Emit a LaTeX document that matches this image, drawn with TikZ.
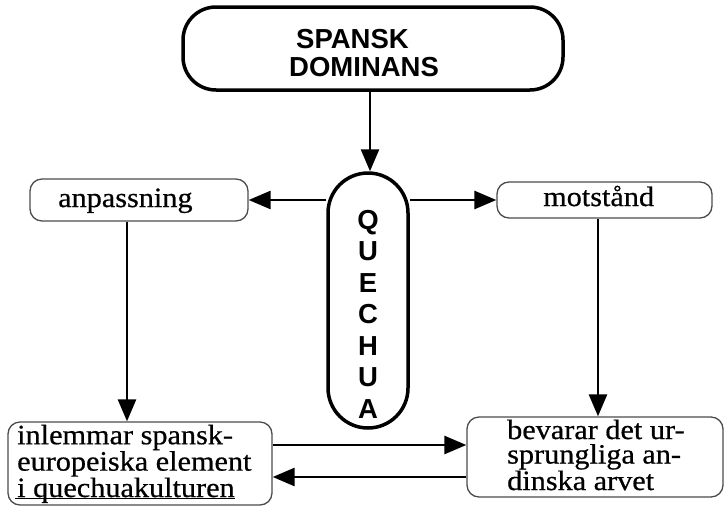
\documentclass[tikz,border=0pt]{standalone}
\usepackage{fontspec}
\usetikzlibrary{arrows.meta}
\newfontfamily\bodyface[FakeStretch=1.08,FakeBold=0.6]{Liberation Serif}
\newfontfamily\headface{Liberation Sans}
% underline drawn slightly below the baseline, crossing descenders
\newcommand\lowline[1]{\setbox0\hbox{#1}\rlap{\hspace*{-2pt}\rule[-2pt]{\dimexpr\wd0+2pt\relax}{1.2pt}}\box0}

\begin{document}
\begin{tikzpicture}[x=1pt,y=-1pt,
  heavybox/.style={draw, line width=3.5pt, inner sep=0pt},
  thinbox/.style={draw=black!70, line width=1.3pt, inner sep=0pt, rounded corners=12pt},
  headtext/.style={font=\headface\bfseries\fontsize{27.5}{28}\selectfont, inner sep=0pt},
  bodytext/.style={font=\bodyface\fontsize{28}{24.5}\selectfont, inner sep=0pt, align=left},
  arr/.style={line width=2.6pt, -{Triangle[length=22pt,width=18pt]}}]
\useasboundingbox (0,0) rectangle (725,506);

% boxes
\node[heavybox, rounded corners=33pt, minimum width=380pt, minimum height=83pt] (dom) at (373,48.5) {};
\node[heavybox, rounded corners=40pt, minimum width=80pt, minimum height=255pt] (q) at (368,300.5) {};
\node[thinbox, minimum width=218pt, minimum height=42pt] (anp) at (139,200) {};
\node[thinbox, minimum width=215pt, minimum height=36pt] (mot) at (604.5,200) {};
\node[thinbox, minimum width=264pt, minimum height=83pt] (inl) at (140,463.5) {};
\node[thinbox, minimum width=256pt, minimum height=80pt] (bev) at (595,457) {};

% texts (base anchor of a multi-line node sits on its last line)
\node[headtext, align=left, anchor=base west] (domtxt) at (289,76) {\hspace*{7pt}SPANSK\\DOMINANS};
\node[headtext, font=\headface\bfseries\fontsize{27.5}{31.5}\selectfont, align=center, anchor=base] (qtxt) at (368,418) {Q\\U\\E\\C\\H\\U\\A};
\node[bodytext, anchor=base west] (anptxt) at (58,207) {anpassning};
\node[bodytext, anchor=base west] (mottxt) at (543,206) {motstånd};
\node[bodytext, anchor=base west] (inltxt) at (17,497) {inlemmar spansk-\\europeiska element\\\lowline{i quechuakulturen}};
\node[bodytext, anchor=base west] (bevtxt) at (507,490) {bevarar det ur-\\sprungliga an-\\dinska arvet};

% connectors
\draw[arr] (dom.south -| q.north) ++(2pt,0) coordinate (d0) (d0) -- (d0 |- q.north);
\draw[arr] (q.west |- anp.east) -- (anp.east);
\draw[arr] (q.east |- mot.west) -- (mot.west);
\coordinate (c1) at ([xshift=-12pt]anp.south);
\draw[arr] (c1) -- (c1 |- inl.north);
\coordinate (c2) at ([xshift=-6.5pt]mot.south);
\draw[arr] (c2) -- (c2 |- bev.north);
\coordinate (a1) at ([yshift=18.5pt]inl.east);
\draw[arr] (a1) -- (a1 -| bev.west);
\coordinate (a2) at ([yshift=-13.5pt]inl.east);
\draw[arr] (a2 -| bev.west) -- (a2);
\end{tikzpicture}
\end{document}
